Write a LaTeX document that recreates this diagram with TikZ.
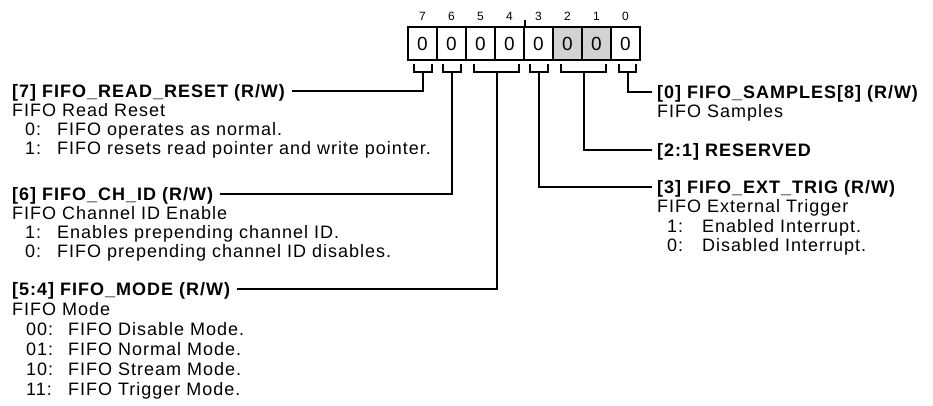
\documentclass[tikz,border=0pt]{standalone}
\usepackage{fontspec}
\setmainfont{Liberation Sans}[LetterSpace=5.5]
\tikzset{
  cell/.style={draw,line width=2.6pt,minimum width=29pt,minimum height=33pt,inner sep=0pt,font=\fontsize{19}{19}\selectfont},
  bitno/.style={anchor=base,inner sep=0pt,font=\fontsize{12}{12}\selectfont},
  hdr/.style={anchor=base west,inner sep=0pt,text height=12pt,text depth=0pt,font=\fontsize{18}{19}\selectfont\bfseries},
  txt/.style={anchor=base west,inner sep=0pt,font=\fontsize{18}{19}\selectfont},
  conn/.style={line width=2pt}
}
\newcommand\itm[2]{\makebox[#1][l]{#2}}
\begin{document}
\begin{tikzpicture}[x=1pt,y=-1pt]
    \useasboundingbox (0,0) rectangle (933,405);
    % register cells and bit numbers
    \foreach \i/\f in {7/white,6/white,5/white,4/white,3/white,2/gray!35,1/gray!35,0/white}
      \node[cell,fill=\f] (c\i) at ({422.5+(7-\i)*29},43.5) {0};
    \foreach \i in {0,...,7} \node[bitno] (n\i) at ({422.5+(7-\i)*29},20.5) {\i};
    \draw[conn] (c4.north east) -- ++(0,-6);
    % brackets under the fields
    \draw[conn] (414,64) |- (432,72) -- (432,64);
    \draw[conn] (443,64) |- (461,72) -- (461,64);
    \draw[conn] (474,64) |- (519,72) -- (519,64);
    \draw[conn] (530,64) |- (548,72) -- (548,64);
    \draw[conn] (561,64) |- (606,72) -- (606,64);
    \draw[conn] (619,64) |- (636,72) -- (636,64);
    \coordinate (k7) at (423,72);
    \coordinate (k6) at (452,72);
    \coordinate (k54) at (496.5,72);
    \coordinate (k3) at (539,72);
    \coordinate (k21) at (583.5,72);
    \coordinate (k0) at (627.5,72);
    % left fields
    \node[hdr] (l7) at (12,97) {[7] FIFO\_READ\_RESET (R/W)};
    \node[txt] (l7a) at (12,116) {FIFO Read Reset};
    \node[txt] (l7b) at (25,135) {\itm{32pt}{0:}FIFO operates as normal.};
    \node[txt] (l7c) at (25,154) {\itm{32pt}{1:}FIFO resets read pointer and write pointer.};
    \node[hdr] (l6) at (12,200) {[6] FIFO\_CH\_ID (R/W)};
    \node[txt] (l6a) at (12,219) {FIFO Channel ID Enable};
    \node[txt] (l6b) at (25,238) {\itm{32pt}{1:}Enables prepending channel ID.};
    \node[txt] (l6c) at (25,257) {\itm{32pt}{0:}FIFO prepending channel ID disables.};
    \node[hdr] (l54) at (12,295) {[5:4] FIFO\_MODE (R/W)};
    \node[txt] (l54a) at (12,315) {FIFO Mode};
    \node[txt] (l54b) at (26,335) {\itm{42pt}{00:}FIFO Disable Mode.};
    \node[txt] (l54c) at (26,355) {\itm{42pt}{01:}FIFO Normal Mode.};
    \node[txt] (l54d) at (26,375) {\itm{42pt}{10:}FIFO Stream Mode.};
    \node[txt] (l54e) at (26,395) {\itm{42pt}{11:}FIFO Trigger Mode.};
    % right fields
    \node[hdr] (r0) at (657,98) {[0] FIFO\_SAMPLES[8] (R/W)};
    \node[txt] (r0a) at (657,117) {FIFO Samples};
    \node[hdr] (r21) at (657,156) {[2:1] RESERVED};
    \node[hdr] (r3) at (657,193) {[3] FIFO\_EXT\_TRIG (R/W)};
    \node[txt] (r3a) at (657,212) {FIFO External Trigger};
    \node[txt] (r3b) at (667,232) {\itm{35pt}{1:}Enabled Interrupt.};
    \node[txt] (r3c) at (667,251) {\itm{35pt}{0:}Disabled Interrupt.};
    % connectors
    \draw[conn] (k7) |- ([xshift=7pt]l7.east);
    \draw[conn] (k6) |- ([xshift=7pt]l6.east);
    \draw[conn] (k54) |- ([xshift=7pt]l54.east);
    \draw[conn] (k3) |- ([xshift=-5pt]r3.west);
    \draw[conn] (k21) |- ([xshift=-5pt]r21.west);
    \draw[conn] (k0) |- ([xshift=-5pt]r0.west);
\end{tikzpicture}
\end{document}
